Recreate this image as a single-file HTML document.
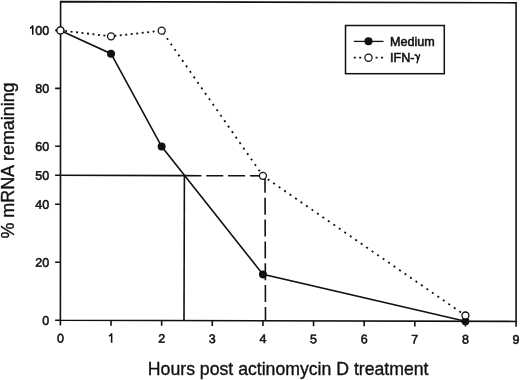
<!DOCTYPE html><html><head><meta charset="utf-8"><style>html,body{margin:0;padding:0;background:#fff;width:520px;height:380px;overflow:hidden}svg{display:block;will-change:transform}text{font-family:"Liberation Sans",sans-serif;fill:#111;stroke:#111;stroke-width:0.35px}.t{stroke-width:0.55px}</style></head><body>
<svg width="520" height="380" viewBox="0 0 520 380">
<g transform="matrix(1,0.0027,0,1,0,-0.162)">
<g stroke="#111" fill="none" stroke-width="1.60">
<path d="M60.60,1.60 H516.07 V320.20 H60.40 Z"/>
<line x1="60.40" y1="320.20" x2="60.40" y2="325.50"/>
<line x1="111.03" y1="320.20" x2="111.03" y2="325.50"/>
<line x1="161.66" y1="320.20" x2="161.66" y2="325.50"/>
<line x1="212.29" y1="320.20" x2="212.29" y2="325.50"/>
<line x1="262.92" y1="320.20" x2="262.92" y2="325.50"/>
<line x1="313.55" y1="320.20" x2="313.55" y2="325.50"/>
<line x1="364.18" y1="320.20" x2="364.18" y2="325.50"/>
<line x1="414.81" y1="320.20" x2="414.81" y2="325.50"/>
<line x1="465.44" y1="320.20" x2="465.44" y2="325.50"/>
<line x1="516.07" y1="320.20" x2="516.07" y2="325.50"/>
<line x1="55.10" y1="320.20" x2="60.40" y2="320.20"/>
<line x1="55.10" y1="262.24" x2="60.40" y2="262.24"/>
<line x1="55.10" y1="204.28" x2="60.40" y2="204.28"/>
<line x1="55.10" y1="146.32" x2="60.40" y2="146.32"/>
<line x1="55.10" y1="88.36" x2="60.40" y2="88.36"/>
<line x1="55.10" y1="30.40" x2="60.40" y2="30.40"/>
</g>
<text class="t" x="60.40" y="342.5" font-size="12.5" text-anchor="middle">0</text>
<path d="M111.63,342.50 V333.20 M111.53,333.60 Q110.73,335.30 108.83,336.00" fill="none" stroke="#111" stroke-width="1.55"/>
<text class="t" x="161.66" y="342.5" font-size="12.5" text-anchor="middle">2</text>
<text class="t" x="212.29" y="342.5" font-size="12.5" text-anchor="middle">3</text>
<text class="t" x="262.92" y="342.5" font-size="12.5" text-anchor="middle">4</text>
<text class="t" x="313.55" y="342.5" font-size="12.5" text-anchor="middle">5</text>
<text class="t" x="364.18" y="342.5" font-size="12.5" text-anchor="middle">6</text>
<text class="t" x="414.81" y="342.5" font-size="12.5" text-anchor="middle">7</text>
<text class="t" x="465.44" y="342.5" font-size="12.5" text-anchor="middle">8</text>
<text class="t" x="516.07" y="342.5" font-size="12.5" text-anchor="middle">9</text>
<text class="t" x="49.2" y="324.70" font-size="12.5" text-anchor="end">0</text>
<text class="t" x="49.2" y="266.74" font-size="12.5" text-anchor="end">20</text>
<text class="t" x="49.2" y="208.78" font-size="12.5" text-anchor="end">40</text>
<text class="t" x="49.2" y="179.80" font-size="12.5" text-anchor="end">50</text>
<text class="t" x="49.2" y="150.82" font-size="12.5" text-anchor="end">60</text>
<text class="t" x="49.2" y="92.86" font-size="12.5" text-anchor="end">80</text>
<text class="t" x="49.2" y="34.90" font-size="12.5" text-anchor="end">00</text>
<path d="M32.77,34.90 V25.60 M32.67,26.00 Q31.88,27.70 29.97,28.40" fill="none" stroke="#111" stroke-width="1.55"/>
<g stroke="#111" fill="none" stroke-width="1.60">
<line x1="55.10" y1="175.30" x2="184.40" y2="175.30"/>
<line x1="184.40" y1="175.30" x2="184.00" y2="320.20"/>
<line x1="184.40" y1="175.30" x2="262.92" y2="175.30" stroke-dasharray="17.0 4.85"/>
<line x1="265.00" y1="175.30" x2="265.50" y2="320.20" stroke-dasharray="17.0 4.85"/>
</g>
<line x1="60.40" y1="30.40" x2="111.03" y2="36.20" stroke="#111" stroke-width="1.8" stroke-dasharray="2.00 3.51" stroke-dashoffset="0.80"/>
<line x1="111.03" y1="36.20" x2="161.66" y2="30.40" stroke="#111" stroke-width="1.8" stroke-dasharray="2.00 3.51" stroke-dashoffset="2.21"/>
<line x1="161.66" y1="30.40" x2="262.92" y2="175.30" stroke="#111" stroke-width="1.8" stroke-dasharray="2.00 4.67" stroke-dashoffset="4.17"/>
<line x1="262.92" y1="175.30" x2="465.44" y2="314.40" stroke="#111" stroke-width="1.8" stroke-dasharray="2.00 4.64" stroke-dashoffset="0.77"/>
<polyline fill="none" stroke="#111" stroke-width="1.6" points="60.40,30.40 111.03,53.58 161.66,146.32 262.92,273.83 465.44,320.20"/>
<circle cx="60.40" cy="30.40" r="4.0" fill="#111"/>
<circle cx="111.03" cy="53.58" r="4.0" fill="#111"/>
<circle cx="161.66" cy="146.32" r="4.0" fill="#111"/>
<circle cx="262.92" cy="273.83" r="4.0" fill="#111"/>
<circle cx="465.44" cy="320.20" r="4.0" fill="#111"/>
<circle cx="60.40" cy="30.40" r="3.5" fill="#fff" stroke="#111" stroke-width="1.3"/>
<circle cx="111.03" cy="36.20" r="3.5" fill="#fff" stroke="#111" stroke-width="1.3"/>
<circle cx="161.66" cy="30.40" r="3.5" fill="#fff" stroke="#111" stroke-width="1.3"/>
<circle cx="262.92" cy="175.30" r="3.5" fill="#fff" stroke="#111" stroke-width="1.3"/>
<circle cx="465.44" cy="314.40" r="3.5" fill="#fff" stroke="#111" stroke-width="1.3"/>
</g>
<rect x="345.5" y="25.5" width="98.8" height="48.2" fill="#fff" stroke="#111" stroke-width="1.5"/>
<line x1="353.8" y1="41.4" x2="383.5" y2="41.4" stroke="#111" stroke-width="1.3"/>
<circle cx="368.5" cy="41.3" r="4.05" fill="#111"/>
<line x1="353.8" y1="57.7" x2="383.5" y2="57.7" stroke="#111" stroke-width="1.8" stroke-dasharray="2.0 3.45"/>
<circle cx="368.5" cy="57.7" r="3.6" fill="#fff" stroke="#111" stroke-width="1.2"/>
<text class="t" x="390" y="46.2" font-size="12.6">Medium</text>
<text class="t" x="390" y="61.6" font-size="12.6">IFN-</text>
<path d="M415.0,55.3 C415.9,54.2 416.7,55.0 417.2,56.8 L417.9,60.3 M419.7,54.6 L418.0,59.6 L417.0,62.8" fill="none" stroke="#111" stroke-width="1.35" stroke-linecap="round"/>
<text x="288.2" y="374.6" font-size="17.67" text-anchor="middle">Hours post actinomycin D treatment</text>
<text transform="translate(14.2,160.5) rotate(-90)" font-size="17.9" text-anchor="middle">% mRNA remaining</text>
</svg></body></html>
